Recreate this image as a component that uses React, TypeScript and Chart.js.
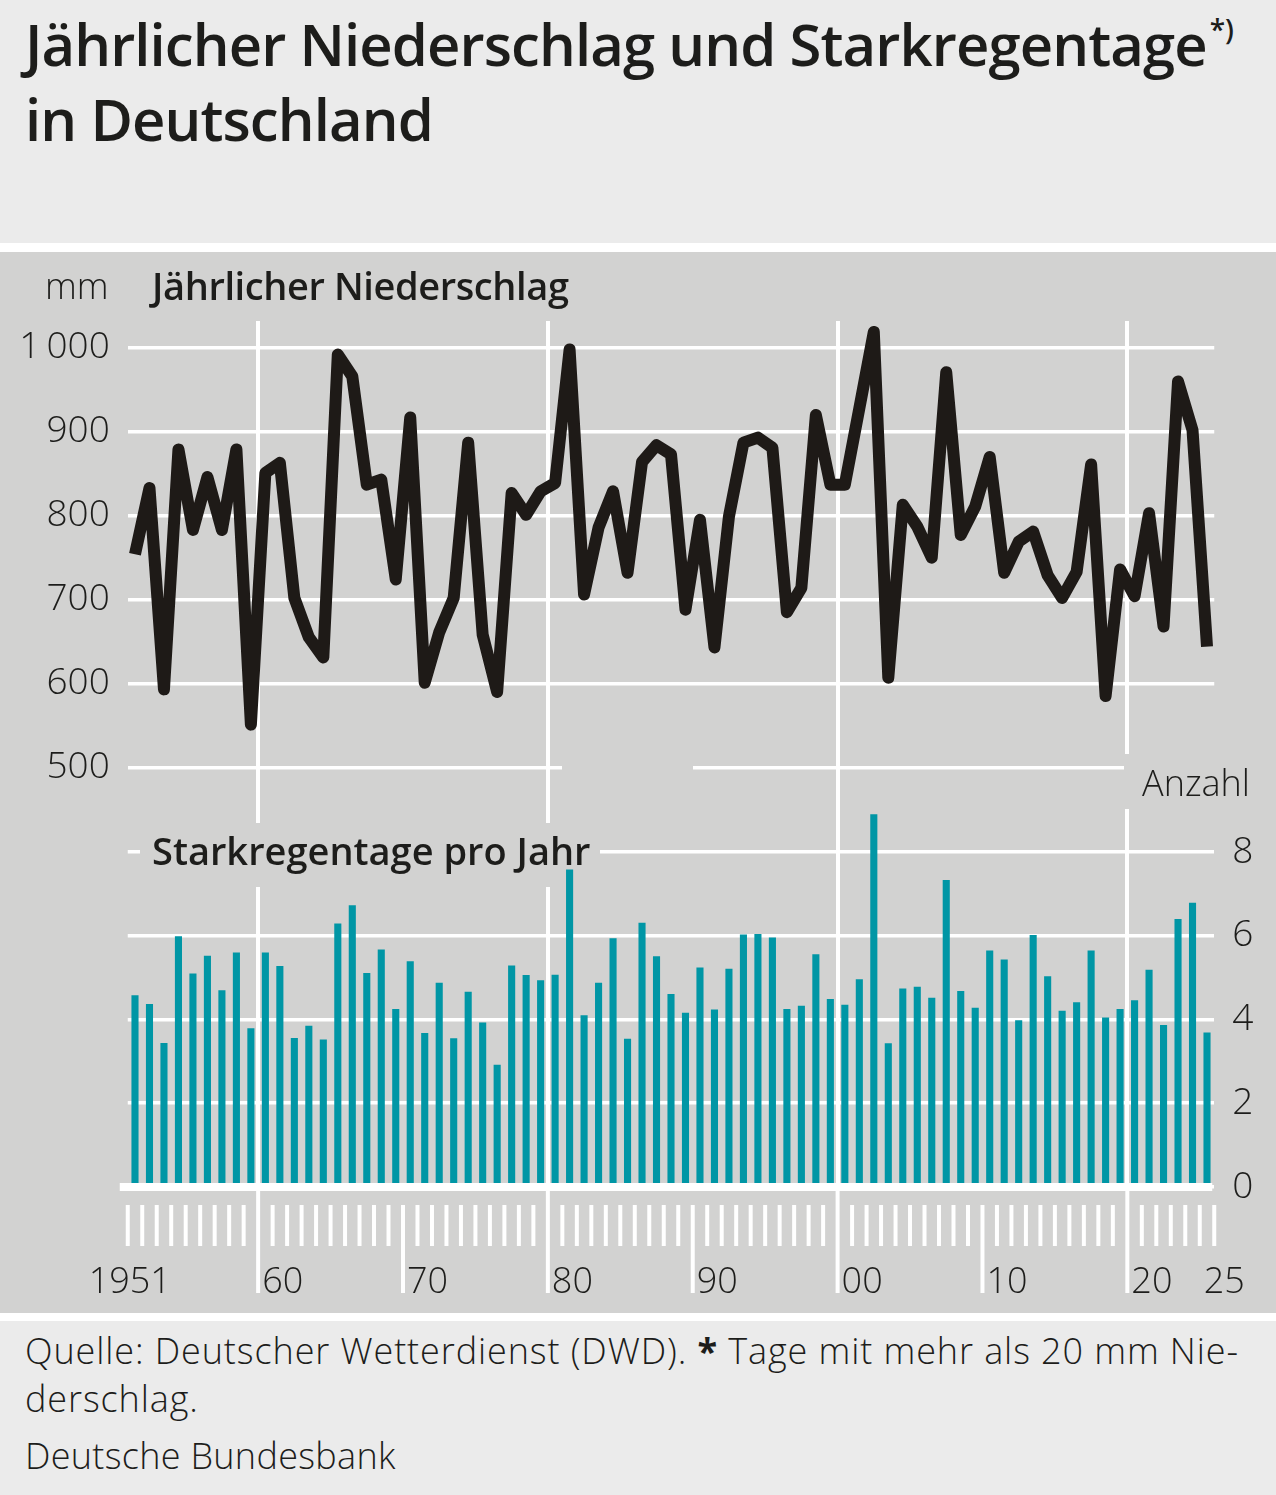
import { useEffect, useRef } from 'react';
import { Chart, registerables } from 'chart.js';
import type { Plugin } from 'chart.js';

Chart.register(...registerables);

// categories
const years = [
  1951, 1952, 1953, 1954, 1955, 1956, 1957, 1958, 1959, 1960,
  1961, 1962, 1963, 1964, 1965, 1966, 1967, 1968, 1969, 1970,
  1971, 1972, 1973, 1974, 1975, 1976, 1977, 1978, 1979, 1980,
  1981, 1982, 1983, 1984, 1985, 1986, 1987, 1988, 1989, 1990,
  1991, 1992, 1993, 1994, 1995, 1996, 1997, 1998, 1999, 2000,
  2001, 2002, 2003, 2004, 2005, 2006, 2007, 2008, 2009, 2010,
  2011, 2012, 2013, 2014, 2015, 2016, 2017, 2018, 2019, 2020,
  2021, 2022, 2023, 2024, 2025,
];

// Jährlicher Niederschlag, mm
const precipitationMm = [
  754, 833, 593, 879, 783, 846, 783, 879, 551, 851,
  863, 702, 655, 631, 992, 966, 837, 843, 724, 917,
  601, 661, 702, 887, 658, 590, 827, 801, 829, 839,
  998, 706, 786, 829, 732, 864, 884, 873, 688, 795,
  643, 799, 887, 893, 881, 685, 714, 920, 837, 837,
  928, 1019, 607, 813, 787, 750, 971, 777, 811, 870,
  732, 769, 781, 729, 702, 733, 861, 585, 736, 704,
  803, 668, 960, 902, 644,
];

// Starkregentage pro Jahr (Anzahl)
const heavyRainDays = [
  4.58, 4.37, 3.44, 5.99, 5.1, 5.52, 4.7, 5.6, 3.79, 5.6,
  5.28, 3.56, 3.85, 3.52, 6.29, 6.73, 5.11, 5.67, 4.25, 5.39,
  3.68, 4.88, 3.55, 4.66, 3.93, 2.92, 5.29, 5.06, 4.94, 5.07,
  7.58, 4.1, 4.88, 5.94, 3.54, 6.31, 5.51, 4.61, 4.16, 5.24,
  4.24, 5.21, 6.03, 6.04, 5.96, 4.25, 4.33, 5.56, 4.49, 4.35,
  4.96, 8.9, 3.43, 4.74, 4.78, 4.52, 7.33, 4.68, 4.28, 5.65,
  5.43, 3.98, 6.02, 5.03, 4.21, 4.41, 5.65, 4.05, 4.25, 4.46,
  5.19, 3.87, 6.4, 6.79, 3.69,
];

const precipTicks = [500, 600, 700, 800, 900, 1000];
const dayTicks = [0, 2, 4, 6, 8];
const tickYears = [1951, 1960, 1970, 1980, 1990, 2000, 2010, 2020, 2025];
const tickLabels = ['1951', '60', '70', '80', '90', '00', '10', '20', '25'];

const BG = '#d2d2d1';
const PAPER = '#ebebeb';
const INK = '#1d1d1b';
const TEAL = '#0096a5';
const FONT = '"Open Sans", "Noto Sans", sans-serif';

const decor: Plugin<'bar'> = {
  id: 'decor',
  beforeDatasetsDraw(chart) {
    // the label boxes break the grid lines
    const { ctx } = chart;
    ctx.save();
    ctx.fillStyle = BG;
    ctx.fillRect(562, 508, 131, 16);
    ctx.fillRect(1124, 502, 152, 55);
    ctx.fillRect(140, 571, 460, 64);
    ctx.restore();
  },
  afterDatasetsDraw(chart) {
    const { ctx } = chart;
    const x = chart.scales.x;
    const y2 = chart.scales.y2;
    const zero = y2.getPixelForValue(0);
    const half = (x.getPixelForValue(1) - x.getPixelForValue(0)) / 2;

    ctx.save();
    ctx.fillStyle = '#fff';
    ctx.fillRect(x.left - 8, zero - 4, x.right - x.left + 6, 8);

    ctx.strokeStyle = '#fff';
    ctx.lineWidth = 4;
    for (let i = 0; i <= years.length; i++) {
      const bx =
        i < years.length ? x.getPixelForValue(i) - half : x.getPixelForValue(years.length - 1) + half;
      const yr = years[i];
      let top = zero + 18;
      let bottom = zero + 59;
      if (yr !== undefined && yr % 10 === 0) {
        bottom = zero + 106;
        if (yr % 20 === 0) top = zero + 4;
      }
      ctx.beginPath();
      ctx.moveTo(bx, top);
      ctx.lineTo(bx, bottom);
      ctx.stroke();
    }

    ctx.fillStyle = INK;
    ctx.font = `300 36px ${FONT}`;
    ctx.textBaseline = 'alphabetic';
    tickYears.forEach((yr, k) => {
      const bx = x.getPixelForValue(years.indexOf(yr)) - half;
      ctx.textAlign = k === 0 ? 'center' : 'left';
      ctx.fillText(tickLabels[k], k === 0 ? bx + 2 : bx + 4, zero + 106);
    });
    ctx.restore();
  },
};

function RainChart() {
  const canvas = useRef<HTMLCanvasElement | null>(null);
  const chartRef = useRef<Chart | null>(null);

  useEffect(() => {
    const node = canvas.current;
    if (!node) {
      return;
    }
    if (chartRef.current) {
      chartRef.current.destroy();
    }

    chartRef.current = new Chart(node, {
      type: 'bar',
      data: {
        labels: years.map(String),
        datasets: [
          {
            type: 'line',
            label: 'Jährlicher Niederschlag',
            data: precipitationMm,
            yAxisID: 'y',
            borderColor: '#1e1a17',
            borderWidth: 12,
            borderJoinStyle: 'round',
            borderCapStyle: 'butt',
            pointRadius: 0,
            tension: 0,
          } as any,
          {
            type: 'bar',
            label: 'Starkregentage pro Jahr',
            data: heavyRainDays,
            yAxisID: 'y2',
            backgroundColor: TEAL,
            barPercentage: 0.49,
            categoryPercentage: 1,
          },
        ],
      },
      options: {
        animation: false,
        responsive: false,
        maintainAspectRatio: false,
        layout: { padding: { top: 69, left: 0, right: 0, bottom: 0 } },
        plugins: {
          legend: { display: false },
          tooltip: { enabled: false },
        },
        scales: {
          x: {
            type: 'category',
            offset: true,
            grid: {
              offset: true,
              drawTicks: false,
              lineWidth: 4,
              color: (c: any) => {
                const yr = years[c.index];
                return yr !== undefined && yr % 20 === 0 ? '#fff' : 'transparent';
              },
            },
            border: { display: false },
            ticks: { display: false, autoSkip: false },
            afterFit: (s: any) => {
              s.height = 126;
            },
          },
          y: {
            position: 'left',
            min: 0,
            max: 1032,
            afterBuildTicks: (s: any) => {
              s.ticks = precipTicks.map((value) => ({ value }));
            },
            grid: { color: '#fff', lineWidth: 3.5, drawTicks: false },
            border: { display: false },
            ticks: {
              color: INK,
              padding: 18,
              font: { family: FONT, size: 37, weight: 300 },
              callback: (v: any) => (v === 1000 ? '1\u2009000' : String(v)),
            },
            afterFit: (s: any) => {
              s.width = 127.75;
            },
          },
          y2: {
            position: 'right',
            min: 0,
            max: 20.68,
            afterBuildTicks: (s: any) => {
              s.ticks = dayTicks.map((value) => ({ value }));
            },
            grid: { color: '#fff', lineWidth: 3.5, drawTicks: false },
            border: { display: false },
            ticks: {
              color: INK,
              padding: 18,
              font: { family: FONT, size: 37, weight: 300 },
            },
            afterFit: (s: any) => {
              s.width = 61.75;
            },
          },
        },
      },
      plugins: [decor],
    });

    return () => {
      chartRef.current?.destroy();
      chartRef.current = null;
    };
  }, []);

  return (
    <canvas
      ref={canvas}
      width={1276}
      height={1061}
      style={{ position: 'absolute', left: 0, top: 0 }}
      role="img"
      aria-label="Jährlicher Niederschlag und Starkregentage in Deutschland"
    />
  );
}

export default function App() {
  const label = { position: 'absolute' as const, whiteSpace: 'nowrap' as const };
  const title = { ...label, left: 25, fontSize: 58, fontWeight: 600, lineHeight: '58px', letterSpacing: -0.9 };
  const foot = { ...label, left: 25, fontSize: 36, fontWeight: 300, lineHeight: '36px', letterSpacing: 0.9 };
  return (
    <div
      style={{
        position: 'relative',
        width: 1276,
        height: 1495,
        background: PAPER,
        color: INK,
        fontFamily: FONT,
        overflow: 'hidden',
      }}
    >
      <style>{'body{margin:0}'}</style>
      <div style={{ ...title, top: 15 }}>
        Jährlicher Niederschlag und Starkregentage
        <span style={{ fontSize: 28, position: 'relative', top: -26, marginLeft: 3, letterSpacing: 0 }}>*)</span>
      </div>
      <div style={{ ...title, top: 90 }}>in Deutschland</div>

      <div style={{ position: 'absolute', left: 0, top: 243, width: 1276, height: 9, background: '#fff' }} />

      <div style={{ position: 'absolute', left: 0, top: 252, width: 1276, height: 1061, background: BG }}>
        <RainChart />
        <div style={{ ...label, left: 45, top: 16, fontSize: 36, fontWeight: 300, lineHeight: '36px' }}>mm</div>
        <div
          style={{ ...label, left: 152, top: 14, fontSize: 38, fontWeight: 600, lineHeight: '38px', letterSpacing: -0.4 }}
        >
          Jährlicher Niederschlag
        </div>
        <div style={{ ...label, right: 26, top: 513, fontSize: 36, fontWeight: 300, lineHeight: '36px' }}>Anzahl</div>
        <div style={{ ...label, left: 152, top: 579, fontSize: 38, fontWeight: 600, lineHeight: '38px' }}>
          Starkregentage pro Jahr
        </div>
      </div>

      <div style={{ position: 'absolute', left: 0, top: 1313, width: 1276, height: 8, background: '#fff' }} />

      <div style={{ ...foot, top: 1333 }}>
        Quelle: Deutscher Wetterdienst (DWD). <b style={{ fontWeight: 700 }}>*</b> Tage mit mehr als 20 mm Nie-
      </div>
      <div style={{ ...foot, top: 1381 }}>derschlag.</div>
      <div style={{ ...foot, top: 1438, letterSpacing: 0.3 }}>Deutsche Bundesbank</div>
    </div>
  );
}
